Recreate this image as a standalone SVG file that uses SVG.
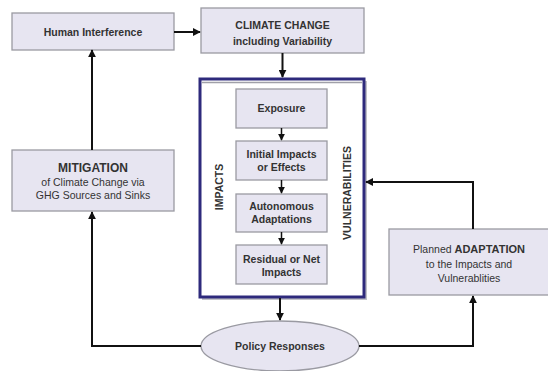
<svg xmlns="http://www.w3.org/2000/svg" width="548" height="371" viewBox="0 0 548 371">
<defs>
<marker id="ah" viewBox="0 0 10 10" refX="9" refY="5" markerWidth="8" markerHeight="8" markerUnits="userSpaceOnUse" orient="auto">
<path d="M0,0 L10,5 L0,10 Z" fill="#111"/>
</marker>
<marker id="ahs" viewBox="0 0 10 10" refX="9" refY="5" markerWidth="7" markerHeight="7" markerUnits="userSpaceOnUse" orient="auto">
<path d="M0,0 L10,5 L0,10 Z" fill="#111"/>
</marker>
</defs>
<style>
.box{fill:#e7e5f1;stroke:#9a9aa2;stroke-width:1.3}
.t{font-family:"Liberation Sans",Arial,sans-serif;font-size:10.5px;fill:#333;text-anchor:middle}
.b{font-weight:700}
.m{font-size:12px;font-weight:700}
.a{font-size:11px;font-weight:700}
.c{fill:none;stroke:#111;stroke-width:2}
.cs{fill:none;stroke:#111;stroke-width:1.5}
</style>
<rect width="548" height="371" fill="#ffffff"/>
<g id="human">
<rect class="box" x="12" y="13" width="162" height="37"/>
<text class="t b" x="93" y="35.5">Human Interference</text>
</g>
<g id="climate">
<rect class="box" x="201" y="8" width="163" height="45"/>
<text class="t b" x="282.5" y="29">CLIMATE CHANGE</text>
<text class="t b" x="282.5" y="45">including Variability</text>
</g>
<g id="vulnerabilities">
<rect x="202" y="81" width="165" height="219" fill="#9a9aa2" opacity="0.6"/>
<rect x="200" y="79" width="164" height="218" fill="#ffffff" stroke="#2e2a7c" stroke-width="3"/>
<line x1="202" y1="82.5" x2="362" y2="82.5" stroke="#a0a0a8" stroke-width="1.5"/>
<text class="t b" transform="translate(223,187) rotate(-90)">IMPACTS</text>
<text class="t b" transform="translate(351,193) rotate(-90)">VULNERABILITIES</text>
</g>
<g id="exposure">
<rect class="box" x="236" y="89" width="91" height="39"/>
<text class="t b" x="281.5" y="112">Exposure</text>
</g>
<g id="initial">
<rect class="box" x="236" y="141" width="91" height="39"/>
<text class="t b" x="281.5" y="158">Initial Impacts</text>
<text class="t b" x="281.5" y="170.5">or Effects</text>
</g>
<g id="autonomous">
<rect class="box" x="236" y="194" width="91" height="38"/>
<text class="t b" x="281.5" y="210">Autonomous</text>
<text class="t b" x="281.5" y="222.5">Adaptations</text>
</g>
<g id="residual">
<rect class="box" x="236" y="245" width="91" height="39"/>
<text class="t b" x="281.5" y="263">Residual or Net</text>
<text class="t b" x="281.5" y="275.5">Impacts</text>
</g>
<g id="mitigation">
<rect class="box" x="12" y="150" width="162" height="61"/>
<text class="t m" x="93" y="172">MITIGATION</text>
<text class="t" x="93" y="186">of Climate Change via</text>
<text class="t" x="93" y="198.5">GHG Sources and Sinks</text>
</g>
<g id="adaptation">
<rect class="box" x="389" y="229" width="162" height="66"/>
<text class="t" x="469" y="253">Planned <tspan class="a">ADAPTATION</tspan></text>
<text class="t" x="469" y="268">to the Impacts and</text>
<text class="t" x="469" y="282">Vulnerablities</text>
</g>
<g id="policy">
<ellipse cx="280" cy="346" rx="79" ry="25" fill="#e7e5f1" stroke="#9a9aa2" stroke-width="1.3"/>
<text class="t b" x="280" y="350">Policy Responses</text>
</g>
<g id="connectors">
<path class="c" d="M174,32 L200,32" marker-end="url(#ah)"/>
<path class="c" d="M282.5,53 L282.5,77" marker-end="url(#ah)"/>
<path class="cs" d="M281.5,128 L281.5,140" marker-end="url(#ahs)"/>
<path class="cs" d="M281.5,180 L281.5,193" marker-end="url(#ahs)"/>
<path class="cs" d="M281.5,232 L281.5,244" marker-end="url(#ahs)"/>
<path class="c" d="M280,298 L280,320" marker-end="url(#ah)"/>
<path class="c" d="M201,346 L92,346 L92,212" marker-end="url(#ah)"/>
<path class="c" d="M92,150 L92,50" marker-end="url(#ah)"/>
<path class="c" d="M359,346 L473,346 L473,296" marker-end="url(#ah)"/>
<path class="c" d="M473,229 L473,182 L366,182" marker-end="url(#ah)"/>
</g>
</svg>
